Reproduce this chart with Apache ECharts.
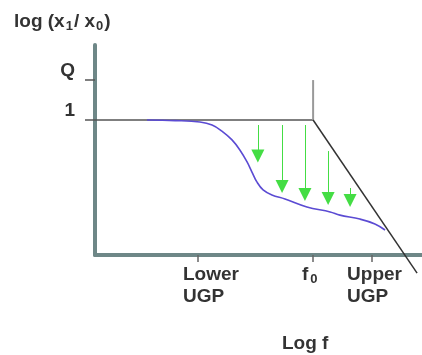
<!DOCTYPE html>
<html><head><meta charset="utf-8">
<script src="https://cdn.jsdelivr.net/npm/echarts@6/dist/echarts.min.js"></script>
<style>html,body{margin:0;padding:0;background:#fff}#c{width:422px;height:355px}</style>
</head><body><div id="c"></div>
<script>
// Schematic units: x 0..100 (log f), y 0..100 (log gain)
const xTickValues = [31.5, 66.7, 84.7];
const xLabelValues = [26.9, 63.3, 77.1];
const xLabels = ['Lower\nUGP', '{f|f}{s|0}', 'Upper\nUGP'];
const yTickValues = [64.3, 83.3];
const yLabels = ['1', 'Q'];
const levelOne = [[0, 64.3], [66.7, 64.3]];
const f0Marker = [[66.7, 64.3], [66.7, 83.3]];
const asymptote = [[66.7, 64.3], [98.5, -8.6]];
const responseX = [15.9, 24.5, 32.1, 35.8, 38.8, 41.9, 44.3, 46.5, 48.0, 49.5, 51.4, 54.1, 58.1, 64.8, 71.9, 74.9, 81.0, 85.6, 88.7];
const responseY = [64.3, 64.0, 63.3, 61.9, 59.0, 54.8, 50.0, 44.3, 39.5, 34.8, 31.0, 28.6, 26.7, 22.9, 20.5, 19.0, 17.1, 14.8, 11.9];
const arrowX = [49.8, 57.2, 64.2, 71.3, 78.0];
const arrowStart = [61.9, 61.9, 61.9, 49.5, 31.9];
const arrowEnd = [47.1, 32.6, 28.8, 26.9, 26.0];

const FONT = '"Liberation Sans", Arial, sans-serif';
const TXT = '#333';
const AXIS = '#6e8787';
const FS = 19;
const chart = echarts.init(document.getElementById('c'), null, {renderer: 'canvas'});
const axisBase = {type: 'value', min: 0, max: 100, splitLine: {show: false}};
chart.setOption({
  animation: false,
  title: [
    {text: 'log (x{s|1}/ x{s|0})', left: 9, top: 6,
     textStyle: {fontSize: FS, fontWeight: 'bold', fontFamily: FONT, color: TXT,
       rich: {s: {fontSize: 13, fontWeight: 'bold', fontFamily: FONT, color: TXT, padding: [9, 1, 0, 1]}}}},
    {text: 'Log f', left: 277, top: 329,
     textStyle: {fontSize: FS, fontWeight: 'bold', fontFamily: FONT, color: TXT}}
  ],
  grid: {left: 95, right: 0, top: 45, bottom: 100},
  xAxis: [
    Object.assign({}, axisBase, {
      axisLine: {lineStyle: {color: AXIS, width: 4}},
      axisTick: {show: true, inside: false, length: 7, customValues: xTickValues, lineStyle: {color: '#666', width: 1.5}},
      axisLabel: {show: true, customValues: xLabelValues, align: 'left', margin: 9,
        formatter: v => xLabels[xLabelValues.indexOf(v)],
        fontSize: FS, fontWeight: 'bold', fontFamily: FONT, color: TXT, lineHeight: 22,
        rich: {f: {fontSize: FS, fontWeight: 'bold', fontFamily: FONT, color: TXT},
               s: {fontSize: 13, fontWeight: 'bold', fontFamily: FONT, color: TXT, padding: [8, 0, 0, 2]}}}
    }),
    Object.assign({}, axisBase, {
      axisLine: {show: false},
      axisTick: {show: true, inside: true, length: 7, customValues: xTickValues, lineStyle: {color: '#666', width: 1.5}},
      axisLabel: {show: false}
    })
  ],
  yAxis: [
    Object.assign({}, axisBase, {
      axisLine: {lineStyle: {color: AXIS, width: 4}},
      axisTick: {show: true, inside: false, length: 10, customValues: yTickValues, lineStyle: {color: '#555', width: 1.5}},
      axisLabel: {show: true, customValues: yTickValues, margin: 20, verticalAlign: 'bottom',
        formatter: v => yLabels[yTickValues.indexOf(v)],
        fontSize: FS, fontWeight: 'bold', fontFamily: FONT, color: TXT}
    }),
    Object.assign({}, axisBase, {
      axisLine: {show: false},
      axisTick: {show: true, inside: true, length: 10, customValues: yTickValues, lineStyle: {color: '#555', width: 1.5}},
      axisLabel: {show: false}
    })
  ],
  series: [
    {type: 'line', data: levelOne, symbol: 'none', lineStyle: {color: '#555', width: 1.5}},
    {type: 'line', data: f0Marker, symbol: 'none', lineStyle: {color: '#999', width: 2}},
    {type: 'line', data: asymptote, symbol: 'none', clip: false, lineStyle: {color: '#333', width: 1.5}},
    {type: 'line', data: responseX.map((x, i) => [x, responseY[i]]), symbol: 'none', smooth: 0.4,
     lineStyle: {color: '#5b4bd3', width: 1.6}},
    {type: 'lines', coordinateSystem: 'cartesian2d',
     data: arrowX.map((x, i) => ({coords: [[x, arrowStart[i]], [x, arrowEnd[i]]]})),
     symbol: ['none', 'triangle'], symbolSize: 13,
     lineStyle: {color: '#44dd44', width: 1, opacity: 1}}
  ]
});
</script></body></html>
